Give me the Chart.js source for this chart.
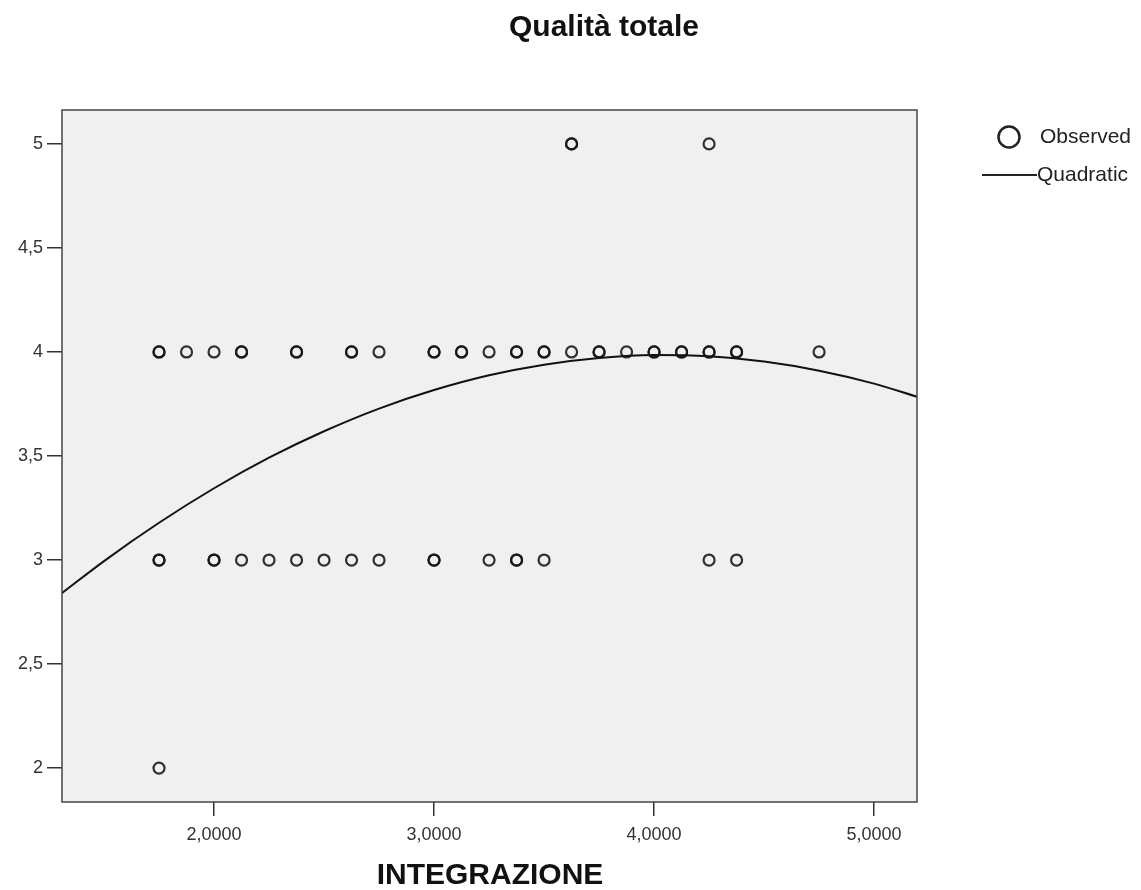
<!DOCTYPE html>
<html><head><meta charset="utf-8">
<script src="https://cdn.jsdelivr.net/npm/chart.js@4"></script>
<style>html,body{margin:0;padding:0;background:#fff}canvas{display:block}</style>
</head><body>
<canvas id="c" width="1141" height="890" style="width:1141px;height:890px"></canvas>
<script>
// ---- data ----
const titleText = "Qualità totale";
const xAxisTitle = "INTEGRAZIONE";
const xTickValues = [2, 3, 4, 5];
const xTickLabels = ["2,0000", "3,0000", "4,0000", "5,0000"];
const yTickValues = [2, 2.5, 3, 3.5, 4, 4.5, 5];
const yTickLabels = ["2", "2,5", "3", "3,5", "4", "4,5", "5"];
const xMin = 1.309, xMax = 5.195, yMin = 1.837, yMax = 5.163;

// observed values (INTEGRAZIONE) for each Qualità totale level; repeats = overlapping observations
const xAtQ5 = [3.625, 3.625, 4.25];
const xAtQ4 = [1.75, 1.75, 1.875, 2.0, 2.125, 2.125, 2.375, 2.375, 2.625, 2.625, 2.75,
               3.0, 3.0, 3.125, 3.125, 3.25, 3.375, 3.375, 3.5, 3.5, 3.625, 3.75, 3.75,
               3.875, 4.0, 4.0, 4.125, 4.125, 4.25, 4.25, 4.375, 4.375, 4.75];
const xAtQ3 = [1.75, 1.75, 2.0, 2.0, 2.125, 2.25, 2.375, 2.5, 2.625, 2.75,
               3.0, 3.0, 3.25, 3.375, 3.375, 3.5, 4.25, 4.375];
const xAtQ2 = [1.75];

// quadratic fit line
const curveX = [1.309, 1.5, 1.75, 2.0, 2.25, 2.5, 2.75, 3.0, 3.25, 3.5, 3.75, 4.0, 4.25, 4.5, 4.75, 5.0, 5.195];
const curveY = [2.841, 2.995, 3.179, 3.345, 3.492, 3.619, 3.728, 3.817, 3.888, 3.939, 3.971, 3.985, 3.979, 3.954, 3.910, 3.848, 3.785];

const observed = [];
[[5, xAtQ5], [4, xAtQ4], [3, xAtQ3], [2, xAtQ2]].forEach(([y, xs]) => xs.forEach(x => observed.push({x, y})));
const quadratic = curveX.map((x, i) => ({x, y: curveY[i]}));

const FONT = "'Liberation Sans', Arial, sans-serif";

const decor = {
  id: 'decor',
  beforeDraw(chart) {
    const {ctx, chartArea: a} = chart;
    ctx.save();
    ctx.fillStyle = '#f0f0f0';
    ctx.fillRect(a.left, a.top, a.right - a.left, a.bottom - a.top);
    ctx.restore();
  },
  afterDraw(chart) {
    const {ctx, chartArea: a} = chart;
    ctx.save();
    ctx.strokeStyle = '#444';
    ctx.lineWidth = 1.5;
    ctx.strokeRect(a.left, a.top, a.right - a.left, a.bottom - a.top);
    // title
    ctx.fillStyle = '#111';
    ctx.textAlign = 'center';
    ctx.textBaseline = 'middle';
    ctx.font = "bold 30px " + FONT;
    ctx.fillText(titleText, 604, 28);
    ctx.fillText(xAxisTitle, 490, 876);
    // legend
    ctx.font = "21px " + FONT;
    ctx.textAlign = 'left';
    ctx.fillStyle = '#222';
    ctx.lineWidth = 2.5;
    ctx.strokeStyle = '#222';
    ctx.beginPath();
    ctx.arc(1009, 137, 10.5, 0, Math.PI * 2);
    ctx.stroke();
    ctx.fillText('Observed', 1040, 137);
    ctx.lineWidth = 2;
    ctx.beginPath();
    ctx.moveTo(982, 175);
    ctx.lineTo(1037, 175);
    ctx.stroke();
    ctx.fillText('Quadratic', 1037, 175);
    ctx.restore();
  }
};

function fixTicks(values) {
  return scale => { scale.ticks = values.map(v => ({value: v})); };
}

new Chart(document.getElementById('c'), {
  data: {
    datasets: [
      {
        type: 'line', label: 'Quadratic', data: quadratic,
        borderColor: '#111', borderWidth: 2, pointRadius: 0,
        cubicInterpolationMode: 'monotone', fill: false, order: 2
      },
      {
        type: 'scatter', label: 'Observed', data: observed,
        pointRadius: 5.5, pointBorderWidth: 2.2,
        borderColor: 'rgba(20,20,20,0.88)', backgroundColor: 'rgba(0,0,0,0)',
        pointBackgroundColor: 'rgba(0,0,0,0)', order: 1
      }
    ]
  },
  options: {
    responsive: false,
    animation: false,
    devicePixelRatio: 1,
    layout: {padding: {top: 110, right: 224, bottom: 0, left: 0}},
    plugins: {legend: {display: false}, title: {display: false}, tooltip: {enabled: false}},
    scales: {
      x: {
        type: 'linear', min: xMin, max: xMax,
        afterBuildTicks: fixTicks(xTickValues),
        afterFit: s => { s.height = 88; },
        ticks: {
          callback: v => xTickLabels[xTickValues.indexOf(v)],
          font: {family: FONT, size: 18}, color: '#333', padding: 8, maxRotation: 0
        },
        grid: {drawOnChartArea: false, drawTicks: true, tickLength: 14, color: '#333', lineWidth: 1.5},
        border: {display: false}
      },
      y: {
        type: 'linear', min: yMin, max: yMax,
        afterBuildTicks: fixTicks(yTickValues),
        afterFit: s => { s.width = 62; },
        ticks: {
          callback: v => yTickLabels[yTickValues.indexOf(v)],
          font: {family: FONT, size: 18}, color: '#333', padding: 4
        },
        grid: {drawOnChartArea: false, drawTicks: true, tickLength: 15, color: '#333', lineWidth: 1.5},
        border: {display: false}
      }
    }
  },
  plugins: [decor]
});
</script>
</body></html>
